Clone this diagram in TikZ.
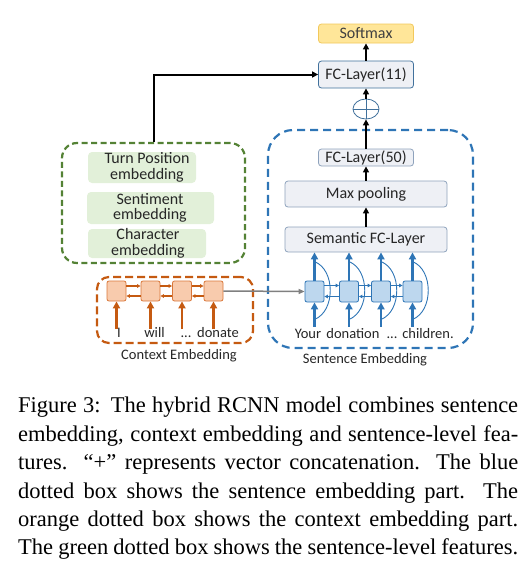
\documentclass[tikz,border=0pt]{standalone}
\usepackage{fontspec}
\setmainfont{Liberation Serif}
\newfontfamily\calfont{Carlito}
\usetikzlibrary{arrows.meta,shapes.geometric}
\pgfdeclarelayer{bg}
\pgfsetlayers{bg,main}
\definecolor{bluedash}{HTML}{2E75B6}
\definecolor{greendash}{HTML}{548235}
\definecolor{orangedash}{HTML}{C55A11}
\definecolor{softfill}{HTML}{FFE699}
\definecolor{softline}{HTML}{F2C85B}
\definecolor{boxfill}{HTML}{EEF0F5}
\definecolor{boxline}{HTML}{41719C}
\definecolor{boxlinelt}{HTML}{8EA2BC}
\definecolor{greenfill}{HTML}{E2F0D9}
\definecolor{ocellfill}{HTML}{F8CBAD}
\definecolor{ocellline}{HTML}{D9773A}
\definecolor{bcellfill}{HTML}{BDD7EE}
\definecolor{txt}{HTML}{262626}
\begin{document}
\begin{tikzpicture}[x=1pt,y=-1pt,
  lbl/.style={font=\calfont\fontsize{16}{15.5}\selectfont, text=txt, inner sep=0pt, align=center},
  wordlbl/.style={font=\calfont\fontsize{14.5}{15}\selectfont, text=txt, inner sep=0pt, anchor=base},
  stackbox/.style={lbl, draw=boxlinelt, fill=boxfill, rounded corners=3pt, line width=0.8pt},
  gfill/.style={fill=greenfill, rounded corners=4pt, inner sep=0pt},
  blk/.style={draw=black, line width=2pt, -{Triangle[length=6pt,width=6pt]}},
  barrow/.style={draw=bluedash, line width=2.4pt, -{Triangle[length=7pt,width=7pt]}},
  oarrow/.style={draw=orangedash, line width=2.4pt, -{Triangle[length=7pt,width=7pt]}},
  bthin/.style={draw=bluedash, line width=1.2pt, -{Triangle[length=3.5pt,width=3.5pt]}},
  othin/.style={draw=orangedash, line width=1.2pt, -{Triangle[length=3.5pt,width=3.5pt]}},
  skipc/.style={draw=bluedash, line width=0.9pt},
  ocell/.style={draw=ocellline, fill=ocellfill, rounded corners=2pt, line width=0.8pt, minimum width=19pt, minimum height=20pt, inner sep=0pt},
  bcell/.style={draw=bluedash, fill=bcellfill, rounded corners=2pt, line width=0.8pt, minimum width=19pt, minimum height=21pt, inner sep=0pt}
]
\useasboundingbox (0,0) rectangle (532,563);

% dashed group boxes
\node[draw=bluedash, line width=2.2pt, dash pattern=on 8pt off 5pt, rounded corners=25pt, minimum width=205pt, minimum height=218pt, inner sep=0pt] (blue) at (370.5,239) {};
\node[draw=greendash, line width=2.2pt, dash pattern=on 6pt off 3.5pt, rounded corners=15pt, minimum width=183pt, minimum height=120pt, inner sep=0pt] (green) at (153.5,203) {};
\node[draw=orangedash, line width=2.2pt, dash pattern=on 8pt off 4pt, rounded corners=12pt, minimum width=156pt, minimum height=66pt, inner sep=0pt] (orange) at (175,310) {};

% top stack
\node[lbl, draw=softline, fill=softfill, rounded corners=3pt, line width=0.8pt, minimum width=95pt, minimum height=19pt, text=black!75] (softmax) at (366,33.5) {Softmax};
\node[stackbox, draw=boxline, minimum width=95pt, minimum height=27pt] (fc11) at (366,74.5) {FC-Layer(11)};
\node[ellipse, draw=boxline, line width=0.8pt, minimum width=26pt, minimum height=20pt, inner sep=0pt] (plus) at (366,109) {};
\draw[boxline, line width=0.8pt] (plus.north) -- (plus.south) (plus.west) -- (plus.east);
\node[stackbox, minimum width=95pt, minimum height=17pt] (fc50) at (366,157.5) {FC-Layer(50)};
\node[stackbox, minimum width=162pt, minimum height=26pt] (maxpool) at (366,194) {Max pooling};
\node[stackbox, minimum width=162pt, minimum height=25pt] (semantic) at (366,239.5) {Semantic FC-Layer};

\draw[blk] (fc11) -- (softmax);
\draw[blk] (plus) -- (fc11);
\draw[blk] (fc50) -- (plus);
\draw[blk] (maxpool) -- (fc50);
\draw[blk] (semantic) -- (maxpool);
\draw[blk] (green.north) |- (fc11.west);

% green feature boxes
\node[gfill, minimum width=108pt, minimum height=31pt] (tpbox) at (142,167.5) {};
\node[lbl] (tp) at (147,167.5) {Turn Position\\embedding};
\node[gfill, minimum width=127pt, minimum height=32pt] (sebox) at (150.5,208) {};
\node[lbl] (se) at (150,208) {Sentiment\\embedding};
\node[gfill, minimum width=118pt, minimum height=29pt] (chbox) at (147,243.5) {};
\node[lbl] (ch) at (148,243.5) {Character\\embedding};

% context RNN
\node[ocell] (o1) at (116.5,291) {};
\node[ocell] (o2) at (150.5,291) {};
\node[ocell] (o3) at (182,291) {};
\node[ocell] (o4) at (213.5,291) {};
\foreach \a/\b in {o1/o2,o2/o3,o3/o4}{
  \draw[othin] ([yshift=5pt]\a.east) -- ([yshift=5pt]\b.west);
  \draw[othin] ([yshift=-5pt]\b.west) -- ([yshift=-5pt]\a.east);
}
\node[wordlbl] (ow1) at (119,337) {I};
\node[wordlbl] (ow2) at (154.5,337) {will};
\node[wordlbl] (ow3) at (186,337) {...};
\node[wordlbl] (ow4) at (218,337) {donate};
\coordinate (obase) at (0,329);
\foreach \c in {o1,o2,o3,o4}{
  \draw[oarrow] (\c |- obase) -- (\c.south);
}
\node[wordlbl] (ctxlbl) at (179,359) {Context Embedding};

% sentence RNN
\node[bcell] (s1) at (314.5,291.5) {};
\node[bcell] (s2) at (349,291.5) {};
\node[bcell] (s3) at (381,291.5) {};
\node[bcell] (s4) at (412.5,291.5) {};
\begin{pgfonlayer}{bg}
\foreach \c in {s1,s2,s3,s4}{
  \draw[skipc] ([yshift=-17pt]\c.south) .. controls +(21,-8) and +(21,8) .. ([yshift=19pt]\c.north);
}
\end{pgfonlayer}
\foreach \a/\b in {s1/s2,s2/s3,s3/s4}{
  \draw[bthin] ([yshift=6pt]\a.east) -- ([yshift=6pt]\b.west);
  \draw[bthin] ([yshift=-5pt]\b.west) -- ([yshift=-5pt]\a.east);
}
\node[wordlbl] (sw1) at (308,338) {Your};
\node[wordlbl] (sw2) at (353,338) {donation};
\node[wordlbl] (sw3) at (392,338) {...};
\node[wordlbl] (sw4) at (428,338) {children.};
\coordinate (sbase) at (0,326.5);
\foreach \c in {s1,s2,s3,s4}{
  \draw[barrow] (\c |- sbase) -- (\c.south);
  \draw[barrow] (\c.north) -- (\c.north |- semantic.south);
}
\node[wordlbl] (sntlbl) at (365,363) {Sentence Embedding};

% context -> sentence
\draw[draw=black!50, line width=1.5pt, -{Triangle[length=6pt,width=5pt]}] (o4.east) -- (s1.west);

% caption
\node[anchor=north west, text width=500pt, align=justify, inner sep=0pt,
      font=\fontsize{22.5}{28.4}\selectfont] (cap) at (18,397)
{\hyphenpenalty=10000\parfillskip=0pt
Figure 3:\hspace{0.45em}The hybrid RCNN model combines sentence\linebreak
embedding, context embedding and sentence-level fea-\linebreak
tures. “+” represents vector concatenation. The blue\linebreak
dotted box shows the sentence embedding part. The\linebreak
orange dotted box shows the context embedding part.\linebreak
The green dotted box shows the sentence-level features.};
\end{tikzpicture}
\end{document}
